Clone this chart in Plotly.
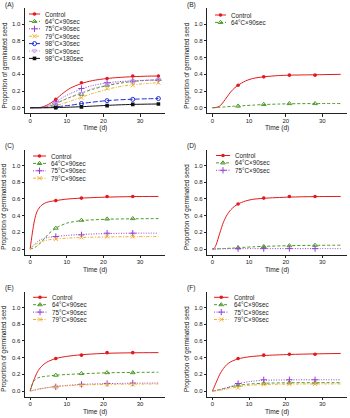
import plotly.graph_objects as go

# ---------------- data ----------------
SERIES = ["Control", "64°C×90sec", "75°C×90sec", "79°C×90sec",
          "98°C×30sec", "98°C×90sec", "98°C×180sec"]

# Panel A
A_curve_t = [0, 3, 5, 7, 9, 11, 14, 17, 21, 24, 28, 32, 35]
A_curve_control = [0, 0.005, 0.04, 0.10, 0.175, 0.235, 0.29, 0.325, 0.35, 0.362, 0.372, 0.378, 0.38]
A_curve_64 = [0, 0.002, 0.015, 0.05, 0.09, 0.125, 0.175, 0.22, 0.265, 0.29, 0.315, 0.328, 0.335]
A_curve_75 = [0, 0.003, 0.025, 0.07, 0.125, 0.17, 0.225, 0.265, 0.298, 0.312, 0.322, 0.328, 0.33]
A_curve_79 = [0, 0.001, 0.008, 0.025, 0.05, 0.08, 0.125, 0.17, 0.22, 0.25, 0.275, 0.29, 0.30]
A_curve_98_30 = [0, 0, 0.003, 0.01, 0.02, 0.03, 0.05, 0.067, 0.085, 0.094, 0.102, 0.107, 0.11]
A_curve_98_90 = [0, 0.002, 0.015, 0.05, 0.092, 0.13, 0.18, 0.23, 0.275, 0.30, 0.322, 0.333, 0.34]
A_curve_98_180 = [0, 0, 0, 0.002, 0.004, 0.007, 0.012, 0.019, 0.028, 0.034, 0.04, 0.043, 0.045]
A_pts_t = [7, 14, 21, 28, 35]
A_pts_control = [0.10, 0.30, 0.35, 0.38, 0.38]
A_pts_64 = [0.05, 0.16, 0.27, 0.32, 0.34]
A_pts_75 = [0.07, 0.23, 0.30, 0.32, 0.33]
A_pts_79 = [0.03, 0.12, 0.23, 0.27, 0.30]
A_pts_98_30 = [0.01, 0.05, 0.085, 0.10, 0.11]
A_pts_98_90 = [0.05, 0.17, 0.28, 0.32, 0.34]
A_pts_98_180 = [0.0, 0.01, 0.025, 0.04, 0.045]

# Panel B
B_curve_t = [0, 1, 2, 3, 4, 5, 6, 7, 9, 11, 14, 18, 21, 28, 35]
B_curve_control = [0, 0.003, 0.02, 0.07, 0.13, 0.19, 0.235, 0.27, 0.32, 0.35, 0.37, 0.385, 0.39, 0.395, 0.40]
B_curve_64 = [0, 0.002, 0.005, 0.009, 0.012, 0.015, 0.018, 0.02, 0.026, 0.031, 0.038, 0.044, 0.047, 0.05, 0.05]
B_pts_t = [7, 14, 21, 28]
B_pts_control = [0.27, 0.37, 0.39, 0.39]
B_pts_64 = [0.02, 0.04, 0.05, 0.05]

# Panel C
C_curve_t = [0, 0.5, 1, 1.5, 2, 3, 4, 5, 7, 10, 14, 21, 28, 35]
C_curve_control = [0, 0.16, 0.30, 0.40, 0.46, 0.52, 0.55, 0.565, 0.58, 0.598, 0.61, 0.622, 0.628, 0.63]
C_curve_64 = [0, 0.005, 0.015, 0.025, 0.04, 0.08, 0.13, 0.18, 0.25, 0.31, 0.34, 0.357, 0.362, 0.365]
C_curve_75 = [0, 0.025, 0.05, 0.07, 0.09, 0.115, 0.13, 0.14, 0.15, 0.163, 0.175, 0.185, 0.19, 0.19]
C_curve_79 = [0, 0.02, 0.04, 0.055, 0.07, 0.09, 0.10, 0.11, 0.12, 0.13, 0.138, 0.145, 0.148, 0.15]
C_pts_t = [7, 14, 21, 28]
C_pts_control = [0.58, 0.61, 0.63, 0.63]
C_pts_64 = [0.25, 0.345, 0.36, 0.365]
C_pts_75 = [0.15, 0.17, 0.19, 0.19]
C_pts_79 = [0.12, 0.14, 0.15, 0.15]

# Panel D
D_curve_t = [0, 0.5, 1, 2, 3, 4, 5, 6, 7, 9, 11, 14, 21, 28, 35]
D_curve_control = [0, 0.01, 0.05, 0.19, 0.32, 0.41, 0.47, 0.51, 0.54, 0.575, 0.595, 0.608, 0.622, 0.628, 0.63]
D_curve_64 = [0, 0, 0.001, 0.003, 0.005, 0.008, 0.01, 0.013, 0.016, 0.021, 0.026, 0.032, 0.04, 0.044, 0.046]
D_curve_75 = [0, 0, 0.001, 0.002, 0.003, 0.003, 0.004, 0.004, 0.004, 0.005, 0.005, 0.005, 0.005, 0.005, 0.005]
D_pts_t = [7, 14, 21, 28]
D_pts_control = [0.54, 0.61, 0.63, 0.63]
D_pts_64 = [0.015, 0.03, 0.04, 0.045]
D_pts_75 = [0.005, 0.005, 0.005, 0.005]

# Panel E
E_curve_t = [0, 0.5, 1, 2, 3, 4, 5, 7, 10, 14, 21, 28, 35]
E_curve_control = [0, 0.07, 0.13, 0.23, 0.29, 0.33, 0.355, 0.39, 0.415, 0.435, 0.452, 0.458, 0.46]
E_curve_64 = [0, 0.07, 0.12, 0.155, 0.168, 0.175, 0.18, 0.19, 0.198, 0.207, 0.218, 0.223, 0.225]
E_curve_75 = [0, 0.004, 0.009, 0.018, 0.027, 0.035, 0.042, 0.055, 0.067, 0.079, 0.089, 0.094, 0.096]
E_curve_79 = [0, 0.005, 0.01, 0.02, 0.03, 0.037, 0.043, 0.053, 0.063, 0.072, 0.08, 0.083, 0.085]
E_pts_t = [7, 14, 21, 28]
E_pts_control = [0.39, 0.43, 0.46, 0.46]
E_pts_64 = [0.19, 0.21, 0.22, 0.22]
E_pts_75 = [0.05, 0.08, 0.09, 0.095]
E_pts_79 = [0.05, 0.07, 0.08, 0.08]

# Panel F
F_curve_t = [0, 0.5, 1, 2, 3, 4, 5, 7, 10, 14, 21, 28, 35]
F_curve_control = [0, 0.05, 0.10, 0.20, 0.27, 0.32, 0.35, 0.385, 0.41, 0.425, 0.438, 0.445, 0.45]
F_curve_64 = [0, 0.003, 0.007, 0.018, 0.03, 0.04, 0.05, 0.068, 0.083, 0.093, 0.099, 0.1, 0.1]
F_curve_75 = [0, 0.002, 0.005, 0.015, 0.027, 0.04, 0.055, 0.085, 0.113, 0.128, 0.133, 0.135, 0.135]
F_curve_79 = [0, 0.002, 0.004, 0.01, 0.017, 0.025, 0.033, 0.05, 0.068, 0.078, 0.083, 0.085, 0.085]
F_pts_t = [7, 14, 21, 28]
F_pts_control = [0.39, 0.43, 0.44, 0.44]
F_pts_64 = [0.07, 0.09, 0.10, 0.10]
F_pts_75 = [0.09, 0.135, 0.135, 0.135]
F_pts_79 = [0.04, 0.08, 0.085, 0.085]

X_TICKS = [0, 10, 20, 30]
Y_TICKS = [0.0, 0.2, 0.4, 0.6, 0.8, 1.0]
Y_TICK_LABELS = ["0.0", "0.2", "0.4", "0.6", "0.8", "1.0"]
X_TITLE = "Time (d)"
Y_TITLE = "Proportion of germinated seed"

PANELS = [
    ("(A)", A_curve_t, A_pts_t, [
        (SERIES[0], A_curve_control, A_pts_control),
        (SERIES[1], A_curve_64, A_pts_64),
        (SERIES[2], A_curve_75, A_pts_75),
        (SERIES[3], A_curve_79, A_pts_79),
        (SERIES[4], A_curve_98_30, A_pts_98_30),
        (SERIES[5], A_curve_98_90, A_pts_98_90),
        (SERIES[6], A_curve_98_180, A_pts_98_180)]),
    ("(B)", B_curve_t, B_pts_t, [
        (SERIES[0], B_curve_control, B_pts_control),
        (SERIES[1], B_curve_64, B_pts_64)]),
    ("(C)", C_curve_t, C_pts_t, [
        (SERIES[0], C_curve_control, C_pts_control),
        (SERIES[1], C_curve_64, C_pts_64),
        (SERIES[2], C_curve_75, C_pts_75),
        (SERIES[3], C_curve_79, C_pts_79)]),
    ("(D)", D_curve_t, D_pts_t, [
        (SERIES[0], D_curve_control, D_pts_control),
        (SERIES[1], D_curve_64, D_pts_64),
        (SERIES[2], D_curve_75, D_pts_75)]),
    ("(E)", E_curve_t, E_pts_t, [
        (SERIES[0], E_curve_control, E_pts_control),
        (SERIES[1], E_curve_64, E_pts_64),
        (SERIES[2], E_curve_75, E_pts_75),
        (SERIES[3], E_curve_79, E_pts_79)]),
    ("(F)", F_curve_t, F_pts_t, [
        (SERIES[0], F_curve_control, F_pts_control),
        (SERIES[1], F_curve_64, F_pts_64),
        (SERIES[2], F_curve_75, F_pts_75),
        (SERIES[3], F_curve_79, F_pts_79)]),
]

# ---------------- styles ----------------
STYLE = {
    SERIES[0]: dict(color="#E3191C", dash="solid", symbol="circle", size=3.6, lw=0),
    SERIES[1]: dict(color="#4E9A2A", dash="3px,2px", symbol="triangle-up-open", size=4.2, lw=1),
    SERIES[2]: dict(color="#9440D4", dash="1px,1.5px", symbol="cross-thin-open", size=4.5, lw=1),
    SERIES[3]: dict(color="#F2AE2E", dash="3px,1.5px,1px,1.5px", symbol="x-thin-open", size=4, lw=1),
    SERIES[4]: dict(color="#1E2EDC", dash="5px,2px", symbol="circle-open", size=4, lw=1),
    SERIES[5]: dict(color="#C79BEE", dash="1px,1.5px", symbol="triangle-down-open", size=4.2, lw=1),
    SERIES[6]: dict(color="#111111", dash="solid", symbol="square", size=3.6, lw=0),
}

W, H = 350, 418
FONT = "Liberation Sans, Arial, Helvetica, sans-serif"
XR = [-1.4, 36.8]
YR = [-0.068, 1.19]
COL_LEFT = [(25, 165), (207.3, 347.3)]
ROW_TOP = [(8.4, 113.4), (149.7, 254.7), (291.7, 396.7)]
LEG = [  # (line x0, text x, first y)
    (29, 43, 14), (215, 229, 15), (33, 49, 156),
    (216, 233, 155.5), (33, 50, 297.3), (214, 231.5, 297.3)]
LEG_DY = 7.4

fig = go.Figure()
layout = dict(width=W, height=H, margin=dict(l=0, r=0, t=0, b=0),
              paper_bgcolor="white", plot_bgcolor="rgba(0,0,0,0)", showlegend=False,
              font=dict(family=FONT, size=6, color="#222"))
annotations = []

for i, (label, ct, pt, series) in enumerate(PANELS):
    k = i + 1
    col, row = i % 2, i // 2
    x0, x1 = COL_LEFT[col]
    y0, y1 = ROW_TOP[row]
    xa = "xaxis" if k == 1 else f"xaxis{k}"
    ya = "yaxis" if k == 1 else f"yaxis{k}"
    xr = "x" if k == 1 else f"x{k}"
    yr = "y" if k == 1 else f"y{k}"
    layout[xa] = dict(domain=[x0 / W, x1 / W], range=XR, anchor=yr,
                      tickmode="array", tickvals=X_TICKS, ticks="outside",
                      ticklen=2.5, tickwidth=0.8, tickcolor="#222",
                      showline=True, linecolor="#222", linewidth=0.9,
                      showgrid=False, zeroline=False, ticklabelstandoff=-1,
                      tickfont=dict(size=6, family=FONT, color="#222"))
    layout[ya] = dict(domain=[1 - y1 / H, 1 - y0 / H], range=YR, anchor=xr,
                      tickmode="array", tickvals=Y_TICKS, ticktext=Y_TICK_LABELS,
                      ticks="outside", ticklen=2.5, tickwidth=0.8, tickcolor="#222",
                      showline=True, linecolor="#222", linewidth=0.9,
                      showgrid=False, zeroline=False,
                      tickfont=dict(size=6, family=FONT, color="#222"))
    for name, cv, pv in series:
        st = STYLE[name]
        fig.add_trace(go.Scatter(x=ct, y=cv, mode="lines", xaxis=xr, yaxis=yr,
                                 line=dict(color=st["color"], width=1, dash=st["dash"],
                                           shape="spline", smoothing=0.8),
                                 hoverinfo="skip"))
        fig.add_trace(go.Scatter(x=pt, y=pv, mode="markers", xaxis=xr, yaxis=yr,
                                 marker=dict(color=st["color"], symbol=st["symbol"],
                                             size=st["size"],
                                             line=dict(color=st["color"], width=st["lw"])),
                                 name=name))
    # panel label
    annotations.append(dict(text=label, x=(x0 - 22) / W, y=1 - (y0 - 3.5) / H,
                            xref="paper", yref="paper", xanchor="left", yanchor="middle",
                            showarrow=False, font=dict(size=6.5, family=FONT, color="#222")))
    # axis titles
    annotations.append(dict(text=X_TITLE, x=(x0 + x1) / 2 / W, y=1 - (y1 + 15) / H,
                            xref="paper", yref="paper", xanchor="center", yanchor="middle",
                            showarrow=False, font=dict(size=6.6, family=FONT, color="#222")))
    annotations.append(dict(text=Y_TITLE, x=(x0 - 20.5) / W, y=0.5, xref="paper", yref=yr,
                            xanchor="center", yanchor="middle", textangle=-90,
                            showarrow=False, font=dict(size=6.4, family=FONT, color="#222")))
    # legend (drawn in pixel overlay)
    lx0, ltx, ly0 = LEG[i]
    for j, (name, _, _) in enumerate(series):
        st = STYLE[name]
        yy = ly0 + j * LEG_DY
        fig.add_trace(go.Scatter(x=[lx0, ltx - 3], y=[yy, yy], mode="lines",
                                 xaxis="x7", yaxis="y7", hoverinfo="skip",
                                 line=dict(color=st["color"], width=1, dash=st["dash"])))
        fig.add_trace(go.Scatter(x=[(lx0 + ltx - 3) / 2], y=[yy], mode="markers",
                                 xaxis="x7", yaxis="y7", hoverinfo="skip",
                                 marker=dict(color=st["color"], symbol=st["symbol"],
                                             size=st["size"],
                                             line=dict(color=st["color"], width=st["lw"]))))
        annotations.append(dict(text=name, x=ltx, y=yy, xref="x7", yref="y7",
                                xanchor="left", yanchor="middle", showarrow=False,
                                font=dict(size=6.3, family=FONT, color="#222")))

layout["xaxis7"] = dict(domain=[0, 1], range=[0, W], visible=False, anchor="y7", fixedrange=True)
layout["yaxis7"] = dict(domain=[0, 1], range=[H, 0], visible=False, anchor="x7", fixedrange=True)
layout["annotations"] = annotations
fig.update_layout(**layout)
fig.write_html("out.html", config={"displayModeBar": False},
               post_script="document.body.style.margin='0';document.body.style.padding='0';")
